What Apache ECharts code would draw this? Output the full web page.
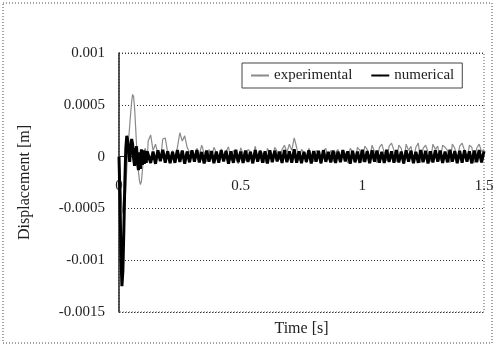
<!DOCTYPE html>
<html>
<head>
<meta charset="utf-8">
<script src="https://cdn.jsdelivr.net/npm/echarts@6/dist/echarts.min.js"></script>
<style>
  html, body { margin: 0; padding: 0; background: #fff; }
</style>
</head>
<body>
<div id="chart" style="width:496px;height:349px;"></div>
<script>
// series names as in the legend
const seriesNames = ['experimental', 'numerical'];

// time [s] of the first transient samples (shared by both series)
const timeEarly = [0, 0.004, 0.008, 0.012, 0.016, 0.02, 0.024, 0.028, 0.032, 0.036,
  0.04, 0.044, 0.048, 0.052, 0.056, 0.06, 0.064, 0.068, 0.072, 0.076,
  0.08, 0.084, 0.088, 0.092, 0.096, 0.1, 0.104, 0.108, 0.112, 0.116];

// time [s] of the steady part
const timeLate = [0.12, 0.13, 0.14, 0.15, 0.16, 0.17, 0.18, 0.19, 0.2, 0.21,
  0.22, 0.23, 0.24, 0.25, 0.26, 0.27, 0.28, 0.29, 0.3, 0.31,
  0.32, 0.33, 0.34, 0.35, 0.36, 0.37, 0.38, 0.39, 0.4, 0.41,
  0.42, 0.43, 0.44, 0.45, 0.46, 0.47, 0.48, 0.49, 0.5, 0.51,
  0.52, 0.53, 0.54, 0.55, 0.56, 0.57, 0.58, 0.59, 0.6, 0.61,
  0.62, 0.63, 0.64, 0.65, 0.66, 0.67, 0.68, 0.69, 0.7, 0.71,
  0.72, 0.73, 0.74, 0.75, 0.76, 0.77, 0.78, 0.79, 0.8, 0.81,
  0.82, 0.83, 0.84, 0.85, 0.86, 0.87, 0.88, 0.89, 0.9, 0.91,
  0.92, 0.93, 0.94, 0.95, 0.96, 0.97, 0.98, 0.99, 1.0, 1.01,
  1.02, 1.03, 1.04, 1.05, 1.06, 1.07, 1.08, 1.09, 1.1, 1.11,
  1.12, 1.13, 1.14, 1.15, 1.16, 1.17, 1.18, 1.19, 1.2, 1.21,
  1.22, 1.23, 1.24, 1.25, 1.26, 1.27, 1.28, 1.29, 1.3, 1.31,
  1.32, 1.33, 1.34, 1.35, 1.36, 1.37, 1.38, 1.39, 1.4, 1.41,
  1.42, 1.43, 1.44, 1.45, 1.46, 1.47, 1.48, 1.49, 1.5];

// displacement in micrometres
const expEarly = [0, -150, -320, -460, -540, -560, -470, -300, -120, 60,
  180, 300, 420, 530, 600, 580, 470, 300, 120, -40,
  -150, -230, -270, -240, -140, -20, 60, 80, 30, -20];
const numEarly = [0, -400, -950, -1250, -1100, -700, -250, 80, 200, 150,
  40, -50, 90, 170, 120, -20, -90, 60, 100, -60,
  -130, 40, -120, 70, -80, 60, -70, 55, -60, 50];

const expLate = [150, 210, 60, 120, 30, -40, 170, 180, 40, -30,
  60, -20, 90, 230, 150, 200, 90, 40, 60, -30,
  80, 20, 110, 30, -50, 70, -20, 90, 40, -60,
  75, -30, 50, 95, -40, 60, 20, -70, 85, 30,
  -40, 70, 50, -20, 100, -50, 60, 30, -60, 80,
  20, -40, 90, 50, -30, 70, 110, 40, 120, 60,
  180, 90, -40, 70, 40, -60, 80, 20, -50, 60,
  40, -70, 50, 80, -30, 60, -50, 40, 70, -40,
  60, 30, -60, 80, 50, -40, 90, 60, -50, 100,
  70, -30, 110, 50, -60, 90, 120, 40, -40, 100,
  130, 60, -50, 110, 80, -70, 120, 60, 100, -40,
  90, 130, -60, 80, 110, 50, -50, 120, 70, 100,
  -40, 110, 90, 60, -60, 120, 80, -50, 100, 130,
  60, -40, 110, 90, -60, 80, 120, 50, 70];
const numLate = [55, -62, 48, -70, 60, -45, 66, -58, 52, -64,
  47, -60, 63, -52, 58, -68, 50, -55, 61, -49,
  64, -57, 45, -66, 59, -50, 53, -63, 48, -58,
  62, -47, 56, -69, 51, -60, 65, -54, 49, -61,
  58, -52, 46, -65, 63, -48, 55, -59, 50, -67,
  61, -53, 57, -46, 49, -62, 64, -55, 52, -60,
  70, -58, 50, -64, 47, -51, 60, -66, 54, -49,
  56, -63, 62, -50, 45, -57, 59, -61, 48, -54,
  63, -47, 51, -68, 57, -55, 49, -60, 66, -52,
  54, -64, 60, -49, 58, -58, 47, -62, 65, -51,
  52, -59, 63, -56, 49, -66, 61, -48, 57, -63,
  46, -60, 64, -53, 55, -67, 50, -57, 62, -49,
  59, -62, 48, -55, 66, -50, 53, -64, 57, -58,
  61, -48, 50, -65, 58, -53, 64, -56, 52];

// pair time with displacement (µm -> m)
const toPairs = (times, values) => times.map((t, i) => [t, values[i] * 1e-6]);
const expData = toPairs(timeEarly, expEarly).concat(toPairs(timeLate, expLate));
const numData = toPairs(timeEarly, numEarly).concat(toPairs(timeLate, numLate));

const serif = 'Liberation Serif';
// plot area in pixels
const G = { left: 119, top: 53, right: 12, bottom: 37 };
const yMin = -0.0015, yMax = 0.001;
const plotH = 349 - G.top - G.bottom;
// the time axis crosses at 0 m: shift it up from the bottom edge
const xAxisShift = plotH * (0 - yMin) / (yMax - yMin);

const option = {
  animation: false,
  backgroundColor: '#fff',
  textStyle: { fontFamily: serif },
  grid: {
    left: G.left, top: G.top, right: G.right, bottom: G.bottom,
    containLabel: false,
    outerBoundsMode: 'none' // keep the plot area fixed, names sit outside
  },
  legend: {
    data: seriesNames,
    left: 242,
    top: 63,
    padding: [5, 8, 5, 8],
    itemGap: 18,
    itemWidth: 18,
    itemHeight: 2,
    borderColor: '#444',
    borderWidth: 1,
    textStyle: { fontFamily: serif, fontSize: 15, color: '#222' }
  },
  xAxis: {
    type: 'value',
    min: 0,
    max: 1.5,
    interval: 0.5,
    position: 'bottom',
    offset: -xAxisShift,
    name: 'Time [s]',
    nameLocation: 'middle',
    nameGap: 164,
    nameTextStyle: { fontFamily: serif, fontSize: 16, color: '#222' },
    axisLine: { onZero: false, lineStyle: { color: '#222', width: 1 } },
    axisTick: { show: false },
    axisLabel: { margin: 22, fontFamily: serif, fontSize: 15, color: '#222' },
    splitLine: { show: false }
  },
  yAxis: {
    type: 'value',
    min: yMin,
    max: yMax,
    interval: 0.0005,
    name: 'Displacement [m]',
    nameLocation: 'middle',
    nameGap: 86,
    nameTextStyle: { fontFamily: serif, fontSize: 16, color: '#222' },
    axisLine: { show: true, onZero: false, lineStyle: { color: '#222', width: 1.5 } },
    axisTick: { show: false },
    axisLabel: {
      margin: 14,
      fontFamily: serif,
      fontSize: 15,
      color: '#222',
      formatter: v => String(Number(v.toFixed(4)))
    },
    splitLine: { show: true, lineStyle: { color: '#333', type: [1, 2], width: 1 } }
  },
  graphic: [
    // outer chart frame
    { type: 'rect', shape: { x: 3, y: 3, width: 489, height: 340 },
      style: { fill: 'none', stroke: '#444', lineWidth: 1, lineDash: [1, 2] }, silent: true },
    // plot area frame
    { type: 'rect', shape: { x: G.left, y: G.top, width: 496 - G.left - G.right, height: plotH },
      style: { fill: 'none', stroke: '#555', lineWidth: 1, lineDash: [1, 2] }, silent: true }
  ],
  series: [
    {
      name: seriesNames[0],
      type: 'line',
      data: expData,
      symbol: 'none',
      lineStyle: { color: '#8a8a8a', width: 1.2 },
      itemStyle: { color: '#8a8a8a' }
    },
    {
      name: seriesNames[1],
      type: 'line',
      data: numData,
      symbol: 'none',
      lineStyle: { color: '#000', width: 3 },
      itemStyle: { color: '#000' }
    }
  ]
};

const chartInstance = echarts.init(document.getElementById('chart'), null, { renderer: 'canvas' });
chartInstance.setOption(option);
</script>
</body>
</html>
